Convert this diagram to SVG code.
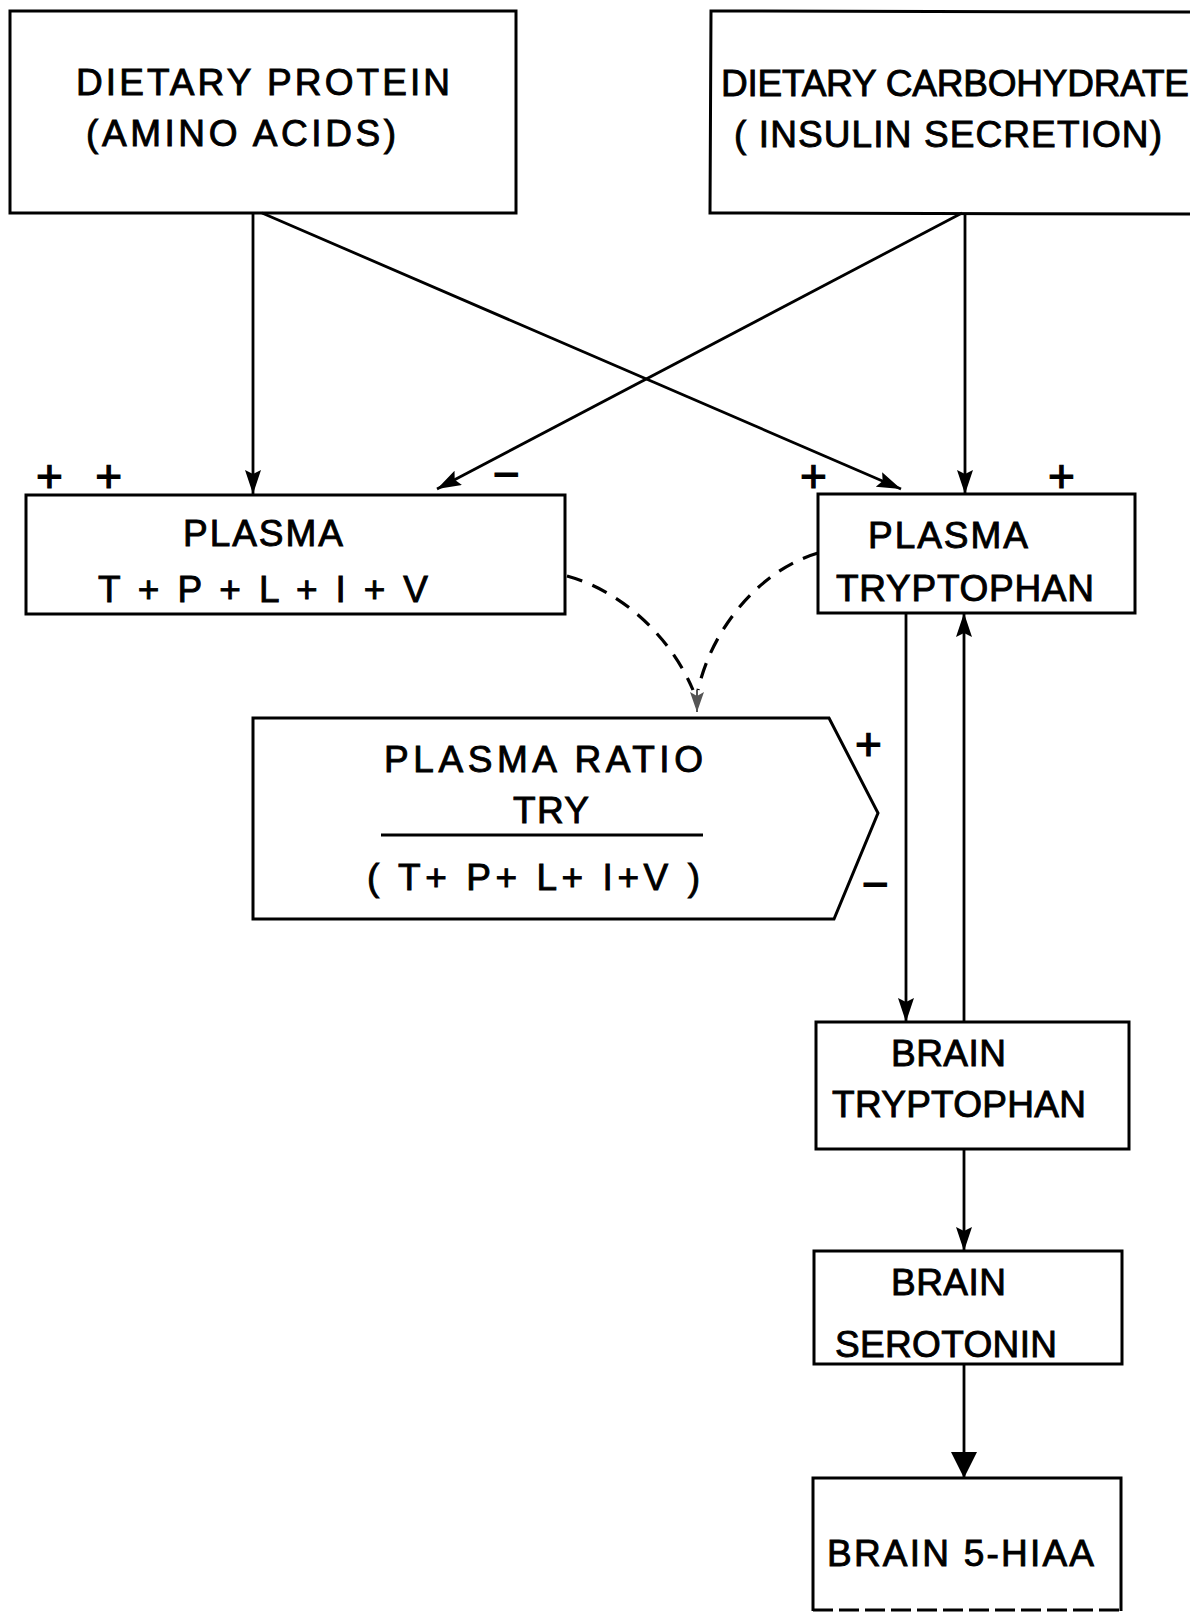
<svg xmlns="http://www.w3.org/2000/svg" width="1195" height="1614" viewBox="0 0 1195 1614">
<style>
.box{fill:none;stroke:#000;stroke-width:3}
.t{font-family:"Liberation Sans",Arial,sans-serif;font-size:37px;fill:#000;stroke:#000;stroke-width:0.9}
.sg{font-family:"Liberation Sans",Arial,sans-serif;font-size:46px;fill:#000;stroke:#000;stroke-width:1.2}
.ln{fill:none;stroke:#000;stroke-width:2.8}
.dash{fill:none;stroke:#000;stroke-width:3.2;stroke-dasharray:16 11}
</style>
<defs>
<marker id="ah" markerUnits="userSpaceOnUse" markerWidth="26" markerHeight="18" refX="24" refY="8" orient="auto">
<path d="M0,0 L24,8 L0,16 L4,8 z" fill="#000"/>
</marker>
<marker id="ahb" markerUnits="userSpaceOnUse" markerWidth="28" markerHeight="28" refX="26" refY="13" orient="auto">
<path d="M0,0 L26,13 L0,26 z" fill="#000"/>
</marker>
<marker id="ahg" markerUnits="userSpaceOnUse" markerWidth="22" markerHeight="16" refX="20" refY="7" orient="auto">
<path d="M0,0 L20,7 L0,14 L4,7 z" fill="#555"/>
</marker>
</defs>
<rect width="1195" height="1614" fill="#fff"/>

<g id="connectors">
<line class="ln" x1="253" y1="213" x2="253" y2="494" marker-end="url(#ah)"/>
<line class="ln" x1="262" y1="213" x2="901" y2="489" marker-end="url(#ah)"/>
<line class="ln" x1="962" y1="213" x2="437" y2="489" marker-end="url(#ah)"/>
<line class="ln" x1="965" y1="213" x2="965" y2="494" marker-end="url(#ah)"/>
<line class="ln" x1="906" y1="613" x2="906" y2="1022" marker-end="url(#ah)"/>
<line class="ln" x1="964" y1="1022" x2="964" y2="613" marker-end="url(#ah)"/>
<line class="ln" x1="964" y1="1149" x2="964" y2="1251" marker-end="url(#ah)"/>
<line class="ln" x1="964" y1="1364" x2="964" y2="1478" marker-end="url(#ahb)"/>
<path class="dash" d="M567,576 C625,592 672,640 693,690"/>
<path class="dash" d="M818,553 C760,570 712,628 698,690"/>
<line x1="697" y1="690" x2="697" y2="712" stroke="#555" stroke-width="2" marker-end="url(#ahg)"/>
</g>

<g id="n-protein">
<rect class="box" x="10" y="11" width="506" height="202"/>
<text class="t" x="76" y="95" textLength="374" lengthAdjust="spacing">DIETARY  PROTEIN</text>
<text class="t" x="86" y="146" textLength="310" lengthAdjust="spacing">(AMINO  ACIDS)</text>
</g>

<g id="n-carb">
<path class="box" d="M1190,12 L711,11 L710,213 L1190,214"/>
<text class="t" x="721" y="96" textLength="468" lengthAdjust="spacing">DIETARY  CARBOHYDRATE</text>
<text class="t" x="734" y="147" textLength="428" lengthAdjust="spacing">( INSULIN  SECRETION)</text>
</g>

<g id="n-plasma-mix">
<rect class="box" x="26" y="495" width="539" height="119"/>
<text class="t" x="183" y="546" textLength="160" lengthAdjust="spacing">PLASMA</text>
<text class="t" x="98" y="602" textLength="330" lengthAdjust="spacing">T + P + L + I + V</text>
<text class="sg" x="36" y="492" textLength="86" lengthAdjust="spacing">+ +</text>
<text class="sg" x="493" y="490">−</text>
</g>

<g id="n-plasma-try">
<rect class="box" x="818" y="494" width="317" height="119"/>
<text class="t" x="868" y="548" textLength="160" lengthAdjust="spacing">PLASMA</text>
<text class="t" x="836" y="601" textLength="258" lengthAdjust="spacing">TRYPTOPHAN</text>
<text class="sg" x="800" y="492">+</text>
<text class="sg" x="1048" y="492">+</text>
</g>

<g id="n-ratio">
<path class="box" d="M253,718 L829,718 L878,813 L834,919 L253,919 Z"/>
<text class="t" x="384" y="772" textLength="319" lengthAdjust="spacing">PLASMA  RATIO</text>
<text class="t" x="513" y="823" textLength="76" lengthAdjust="spacing">TRY</text>
<line x1="381" y1="835" x2="703" y2="835" stroke="#000" stroke-width="3"/>
<text class="t" x="367" y="890" textLength="333" lengthAdjust="spacing">( T+  P+ L+ I+V )</text>
<text class="sg" x="855" y="760">+</text>
<text class="sg" x="862" y="900">−</text>
</g>

<g id="n-brain-try">
<rect class="box" x="816" y="1022" width="313" height="127"/>
<text class="t" x="891" y="1066" textLength="115" lengthAdjust="spacing">BRAIN</text>
<text class="t" x="832" y="1117" textLength="254" lengthAdjust="spacing">TRYPTOPHAN</text>
</g>

<g id="n-serotonin">
<rect class="box" x="814" y="1251" width="308" height="113"/>
<text class="t" x="891" y="1295" textLength="115" lengthAdjust="spacing">BRAIN</text>
<text class="t" x="835" y="1357" textLength="222" lengthAdjust="spacing">SEROTONIN</text>
</g>

<g id="n-hiaa">
<path class="box" d="M813,1611 L813,1478 L1121,1478 L1121,1611"/>
<line x1="813" y1="1610" x2="1121" y2="1610" stroke="#000" stroke-width="3" stroke-dasharray="20 6"/>
<text class="t" x="827" y="1566" textLength="267" lengthAdjust="spacing">BRAIN  5-HIAA</text>
</g>
</svg>
